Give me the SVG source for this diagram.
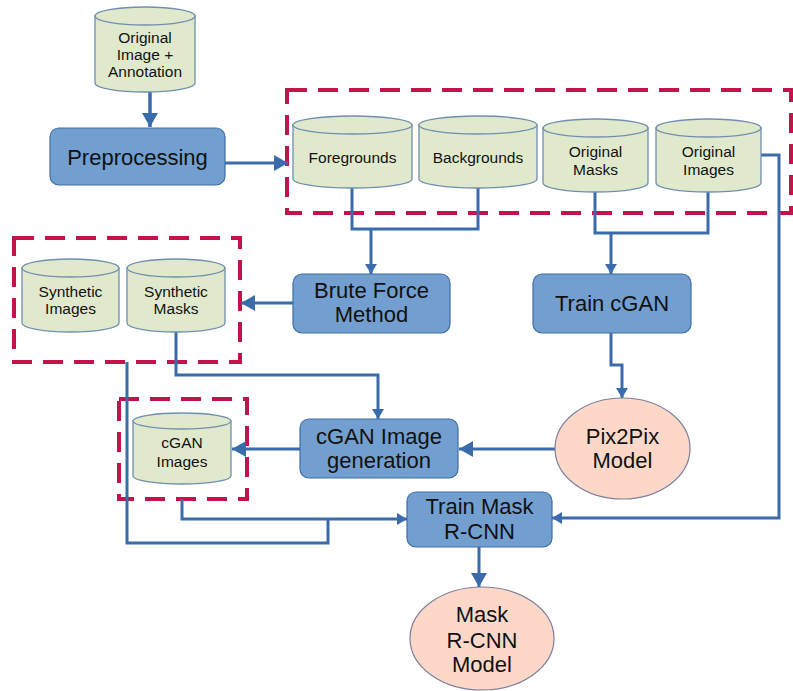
<svg xmlns="http://www.w3.org/2000/svg" width="793" height="691" viewBox="0 0 793 691">
<style>
.bg{fill:#ffffff}
.box{fill:#729fcf;stroke:#3f6ea8;stroke-width:1.2}
.cyl{fill:#e1e9cc;stroke:#6f8fb0;stroke-width:1.3}
.ell{fill:#fdd8c8;stroke:#7b7f9e;stroke-width:1.2}
.dash{fill:none;stroke:#c4134a;stroke-width:4;stroke-dasharray:20 11}
.con{fill:none;stroke:#3a6bab;stroke-width:3;stroke-linejoin:miter}
.t{font-family:"Liberation Sans",Arial,sans-serif;fill:#111111;text-anchor:middle}
.big{font-size:22px}
.sm{font-size:15.5px}
</style>
<defs>
<marker id="ab" markerUnits="userSpaceOnUse" markerWidth="16" markerHeight="16" refX="14" refY="8" orient="auto">
<path d="M0,0 L14,8 L0,16 Z" fill="#3a6bab"/>
</marker>
<marker id="as" markerUnits="userSpaceOnUse" markerWidth="12" markerHeight="12" refX="10" refY="6" orient="auto">
<path d="M0,0 L10,6 L0,12 Z" fill="#3a6bab"/>
</marker>
</defs>
<rect class="bg" x="0" y="0" width="793" height="691"/>

<g id="groups">
<rect class="dash" x="287" y="90" width="504" height="123"/>
<rect class="dash" x="14" y="238" width="226" height="124"/>
<rect class="dash" x="119" y="399" width="128" height="100"/>
</g>

<g id="connectors">
<path class="con" d="M150,92 V127" marker-end="url(#ab)" style="stroke-width:3.5"/>
<path class="con" d="M225,163 H288" marker-end="url(#ab)"/>
<path class="con" d="M352,188 V229 H478 V188"/>
<path class="con" d="M371,229 V274" marker-end="url(#as)"/>
<path class="con" d="M595,192 V233 H708 V192"/>
<path class="con" d="M611,233 V274" marker-end="url(#as)"/>
<path class="con" d="M761,155 H779 V518 H552" marker-end="url(#as)"/>
<path class="con" d="M293,303 H241" marker-end="url(#ab)"/>
<path class="con" d="M611,333 V365 H622 V398" marker-end="url(#as)"/>
<path class="con" d="M176,332 V375 H378 V419" marker-end="url(#as)"/>
<path class="con" d="M555,449 H459" marker-end="url(#ab)"/>
<path class="con" d="M300,449 H232" marker-end="url(#ab)"/>
<path class="con" d="M182,499 V519 H407" marker-end="url(#as)"/>
<path class="con" d="M127,362 V543 H328 V519"/>
<path class="con" d="M479,547 V587" marker-end="url(#ab)"/>
</g>

<g id="n-original">
<path class="cyl" d="M95,16 V83 A50,9 0 0 0 195,83 V16 Z"/>
<ellipse class="cyl" cx="145" cy="16" rx="50" ry="9"/>
<text class="t sm" x="145" y="43">Original</text>
<text class="t sm" x="145" y="60">Image +</text>
<text class="t sm" x="145" y="77">Annotation</text>
</g>

<g id="n-preprocessing">
<rect class="box" x="50" y="128" width="175" height="57" rx="9"/>
<text class="t big" x="137.5" y="165">Preprocessing</text>
</g>

<g id="n-foregrounds">
<path class="cyl" d="M293,125 V179 A59.5,9 0 0 0 412,179 V125 Z"/>
<ellipse class="cyl" cx="352.5" cy="125" rx="59.5" ry="9"/>
<text class="t sm" x="352.5" y="163">Foregrounds</text>
</g>

<g id="n-backgrounds">
<path class="cyl" d="M419,125 V179 A59,9 0 0 0 537,179 V125 Z"/>
<ellipse class="cyl" cx="478" cy="125" rx="59" ry="9"/>
<text class="t sm" x="478" y="163">Backgrounds</text>
</g>

<g id="n-origmasks">
<path class="cyl" d="M543,128 V183 A52.5,9 0 0 0 648,183 V128 Z"/>
<ellipse class="cyl" cx="595.5" cy="128" rx="52.5" ry="9"/>
<text class="t sm" x="595.5" y="157">Original</text>
<text class="t sm" x="595.5" y="175">Masks</text>
</g>

<g id="n-origimages">
<path class="cyl" d="M656,128 V183 A52.5,9 0 0 0 761,183 V128 Z"/>
<ellipse class="cyl" cx="708.5" cy="128" rx="52.5" ry="9"/>
<text class="t sm" x="708.5" y="157">Original</text>
<text class="t sm" x="708.5" y="175">Images</text>
</g>

<g id="n-synimages">
<path class="cyl" d="M22,268 V323 A48.5,9 0 0 0 119,323 V268 Z"/>
<ellipse class="cyl" cx="70.5" cy="268" rx="48.5" ry="9"/>
<text class="t sm" x="70.5" y="297">Synthetic</text>
<text class="t sm" x="70.5" y="314">Images</text>
</g>

<g id="n-synmasks">
<path class="cyl" d="M127,268 V323 A49,9 0 0 0 225,323 V268 Z"/>
<ellipse class="cyl" cx="176" cy="268" rx="49" ry="9"/>
<text class="t sm" x="176" y="297">Synthetic</text>
<text class="t sm" x="176" y="314">Masks</text>
</g>

<g id="n-brute">
<rect class="box" x="293" y="274" width="157" height="59" rx="9"/>
<text class="t big" x="371.5" y="298">Brute Force</text>
<text class="t big" x="371.5" y="322">Method</text>
</g>

<g id="n-traincgan">
<rect class="box" x="533" y="274" width="158" height="59" rx="9"/>
<text class="t big" x="612" y="311">Train cGAN</text>
</g>

<g id="n-cganimages">
<path class="cyl" d="M133,421 V476 A49,8 0 0 0 231,476 V421 Z"/>
<ellipse class="cyl" cx="182" cy="421" rx="49" ry="8"/>
<text class="t sm" x="182" y="448">cGAN</text>
<text class="t sm" x="182" y="467">Images</text>
</g>

<g id="n-cgangen">
<rect class="box" x="300" y="419" width="158" height="59" rx="9"/>
<text class="t big" x="379" y="444">cGAN Image</text>
<text class="t big" x="379" y="468">generation</text>
</g>

<g id="n-pix2pix">
<ellipse class="ell" cx="622.5" cy="448.5" rx="67.5" ry="50.5"/>
<text class="t big" x="622.5" y="444">Pix2Pix</text>
<text class="t big" x="622.5" y="468">Model</text>
</g>

<g id="n-trainmask">
<rect class="box" x="407" y="492" width="145" height="55" rx="9"/>
<text class="t big" x="479.5" y="514">Train Mask</text>
<text class="t big" x="479.5" y="539">R-CNN</text>
</g>

<g id="n-maskmodel">
<ellipse class="ell" cx="482" cy="638.5" rx="72" ry="51.5"/>
<text class="t big" x="482" y="621.5">Mask</text>
<text class="t big" x="482" y="647.5">R-CNN</text>
<text class="t big" x="482" y="672">Model</text>
</g>
</svg>
